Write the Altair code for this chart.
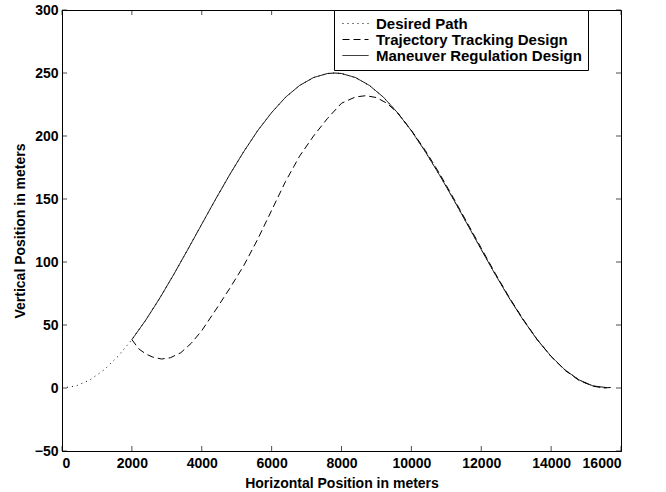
import altair as alt
import pandas as pd

# Desired path
path_x = [0, 400, 800, 1200, 1600, 2000, 2400, 2800, 3200, 3600, 4000, 4400, 4800,
          5200, 5600, 6000, 6400, 6800, 7200, 7600, 7800, 8000, 8400, 8800, 9200,
          9600, 10000, 10400, 10800, 11200, 11600, 12000, 12400, 12800, 13200,
          13600, 14000, 14400, 14800, 15200, 15600]
path_y = [0.0, 1.6, 6.4, 14.3, 25.1, 38.4, 54.0, 71.4, 90.2, 109.9, 130.0, 150.0, 169.3,
          187.5, 204.2, 218.6, 230.8, 240.1, 246.4, 249.6, 250.0, 249.6, 246.4, 240.1, 230.8,
          218.6, 204.2, 187.5, 169.3, 150.0, 130.0, 109.9, 90.2, 71.4, 54.0,
          38.4, 25.1, 14.3, 6.4, 1.6, 0.0]

# Maneuver regulation design (solid)
mr_x = [2000, 2400, 2800, 3200, 3600, 4000, 4400, 4800, 5200, 5600, 6000, 6400, 6800,
        7200, 7600, 7800, 8000, 8400, 8800, 9200, 9600, 10000, 10400, 10800, 11200,
        11600, 12000, 12400, 12800, 13200, 13600, 14000, 14400, 14800, 15200, 15600]
mr_y = [38.4, 54.0, 71.4, 90.2, 109.9, 130.0, 150.0, 169.3, 187.5, 204.2, 218.6, 230.8, 240.1,
        246.4, 249.6, 250.0, 249.6, 246.4, 240.1, 230.8, 218.6, 204.2, 187.5, 169.3, 150.0,
        130.0, 109.9, 90.2, 71.4, 54.0, 38.4, 25.1, 14.3, 6.4, 1.6, 0.3]

# Trajectory tracking design (dashed)
tt_x = [2000, 2200, 2400, 2600, 2850, 3100, 3400, 3700, 4000, 4400, 4800, 5200, 5600,
        6000, 6400, 6800, 7200, 7600, 8000, 8400, 8700, 9000, 9300, 9600, 10000,
        10400, 10800, 11200, 11600, 12000, 12400, 12800, 13200, 13600, 14000, 14400,
        14800, 15200, 15500, 15750]
tt_y = [38.4, 31.0, 27.0, 24.5, 23.0, 24.0, 28.0, 35.5, 45.5, 62.0, 79.0, 97.0, 118.0,
        141.0, 164.0, 184.0, 200.0, 214.0, 226.0, 231.0, 232.0, 230.5, 226.0, 218.5, 204.5,
        188.5, 170.5, 151.0, 131.0, 111.0, 91.0, 72.0, 54.5, 38.5, 25.0, 14.0,
        6.0, 1.5, 0.0, 0.5]

series_names = ["Desired Path", "Trajectory Tracking Design", "Maneuver Regulation Design"]
x_ticks = [0, 2000, 4000, 6000, 8000, 10000, 12000, 14000, 16000]
y_ticks = [-50, 0, 50, 100, 150, 200, 250, 300]

rows = []
for name, xs, ys in [(series_names[0], path_x, path_y),
                     (series_names[1], tt_x, tt_y),
                     (series_names[2], mr_x, mr_y)]:
    for i, (a, b) in enumerate(zip(xs, ys)):
        rows.append({"x": a, "y": b, "series": name, "idx": i})
df = pd.DataFrame(rows)

FONT = "Liberation Sans"
xscale = alt.Scale(domain=[0, 16000], nice=False, zero=False)
yscale = alt.Scale(domain=[-50, 300], nice=False, zero=False)
xaxis = alt.Axis(values=x_ticks, format="d", title="Horizontal Position in meters",
                 tickSize=0, labelPadding=5, titlePadding=6, grid=False)
yaxis = alt.Axis(values=y_ticks, format="d", title="Vertical Position in meters",
                 tickSize=0, labelPadding=4, titlePadding=7, grid=False)

lines = alt.Chart(df).mark_line(color="black", strokeWidth=1).encode(
    x=alt.X("x:Q", scale=xscale, axis=xaxis),
    y=alt.Y("y:Q", scale=yscale, axis=yaxis),
    strokeDash=alt.StrokeDash(
        "series:N",
        scale=alt.Scale(domain=series_names, range=[[1, 4], [7, 4], [1, 0]]),
        legend=alt.Legend(title=None, orient="none", legendX=272, legendY=0,
                          fillColor="white", strokeColor="black", padding=6,
                          symbolOffset=8,
                          symbolType="M-2.6,0H2.6", symbolSize=100,
                          symbolStrokeColor="black", symbolFillColor="transparent",
                          symbolStrokeWidth=1, labelFont=FONT, labelFontSize=15,
                          labelFontWeight="bold", labelColor="black", labelOffset=13,
                          rowPadding=0, labelLimit=0, cornerRadius=0)),
    order="idx:Q",
)

xt = pd.DataFrame({"t": x_ticks})
yt = pd.DataFrame({"t": y_ticks})

tick_bottom = alt.Chart(xt).mark_tick(orient="vertical", size=5, thickness=1,
                                      color="black", yOffset=-2.5).encode(
    x=alt.X("t:Q", scale=xscale, axis=xaxis), y=alt.datum(-50, scale=yscale, axis=yaxis))
tick_top = alt.Chart(xt).mark_tick(orient="vertical", size=5, thickness=1,
                                   color="black", yOffset=2.5).encode(
    x=alt.X("t:Q", scale=xscale, axis=xaxis), y=alt.datum(300, scale=yscale, axis=yaxis))
tick_left = alt.Chart(yt).mark_tick(orient="horizontal", size=5, thickness=1,
                                    color="black", xOffset=2.5).encode(
    y=alt.Y("t:Q", scale=yscale, axis=yaxis), x=alt.datum(0, scale=xscale, axis=xaxis))
tick_right = alt.Chart(yt).mark_tick(orient="horizontal", size=5, thickness=1,
                                     color="black", xOffset=-2.5).encode(
    y=alt.Y("t:Q", scale=yscale, axis=yaxis), x=alt.datum(16000, scale=xscale, axis=xaxis))

chart = alt.layer(lines, tick_bottom, tick_top, tick_left, tick_right).properties(
    width=559, height=441, autosize="none",
    padding={"left": 62, "top": 10, "right": 45, "bottom": 41},
    background="white",
).configure_view(stroke="black", strokeWidth=1).configure_axis(
    domainColor="black", domainWidth=1, labelFont=FONT, labelFontSize=14,
    labelFontWeight="bold", labelColor="black", titleFont=FONT, titleFontSize=14,
    titleFontWeight="bold", titleColor="black",
)

chart.save("out.html", embed_options={"renderer": "svg", "actions": False})
